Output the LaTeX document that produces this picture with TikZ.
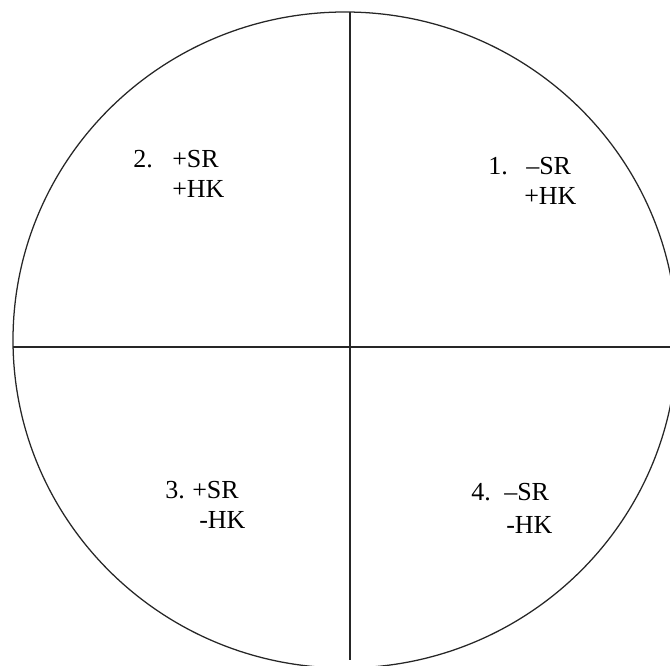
\documentclass[tikz,border=0pt]{standalone}
\usepackage{fontspec}
\setmainfont{Liberation Serif}
\begin{document}
\begin{tikzpicture}[x=0.75pt, y=-0.75pt,
  rim/.style={draw=black!85, line width=0.95pt},
  axis/.style={draw=black!85, line width=1.05pt},
  lbl/.style={font=\fontsize{19.5}{23}\selectfont, anchor=base west, inner sep=0pt}
]
\useasboundingbox (0,0) rectangle (670,666);
\clip (0,0) rectangle (670,666);
% outer circle
\draw[rim] (345,340) ellipse (332 and 328);
% the two axes
\coordinate (top) at (350,12);
\coordinate (bottom) at (350,660);
\coordinate (left) at (13,347);
\coordinate (right) at (672,347);
\draw[axis] (top) -- (bottom);
\draw[axis] (left) -- (right);
% quadrant labels
\foreach \q/\nx/\ny/\ax/\atxt/\bx/\by/\btxt in {
    1/488/175/526/–SR/524/205/+HK,
    2/133/168/172/+SR/172/198/+HK,
    3/165/498/192/+SR/199/528/-HK,
    4/471/500/504/–SR/506/533/-HK}{
  \node[lbl] (num\q) at (\nx,\ny) {\q.};
  \node[lbl] (sr\q) at (\ax,\ny) {\atxt};
  \node[lbl] (hk\q) at (\bx,\by) {\btxt};
}
\end{tikzpicture}
\end{document}
